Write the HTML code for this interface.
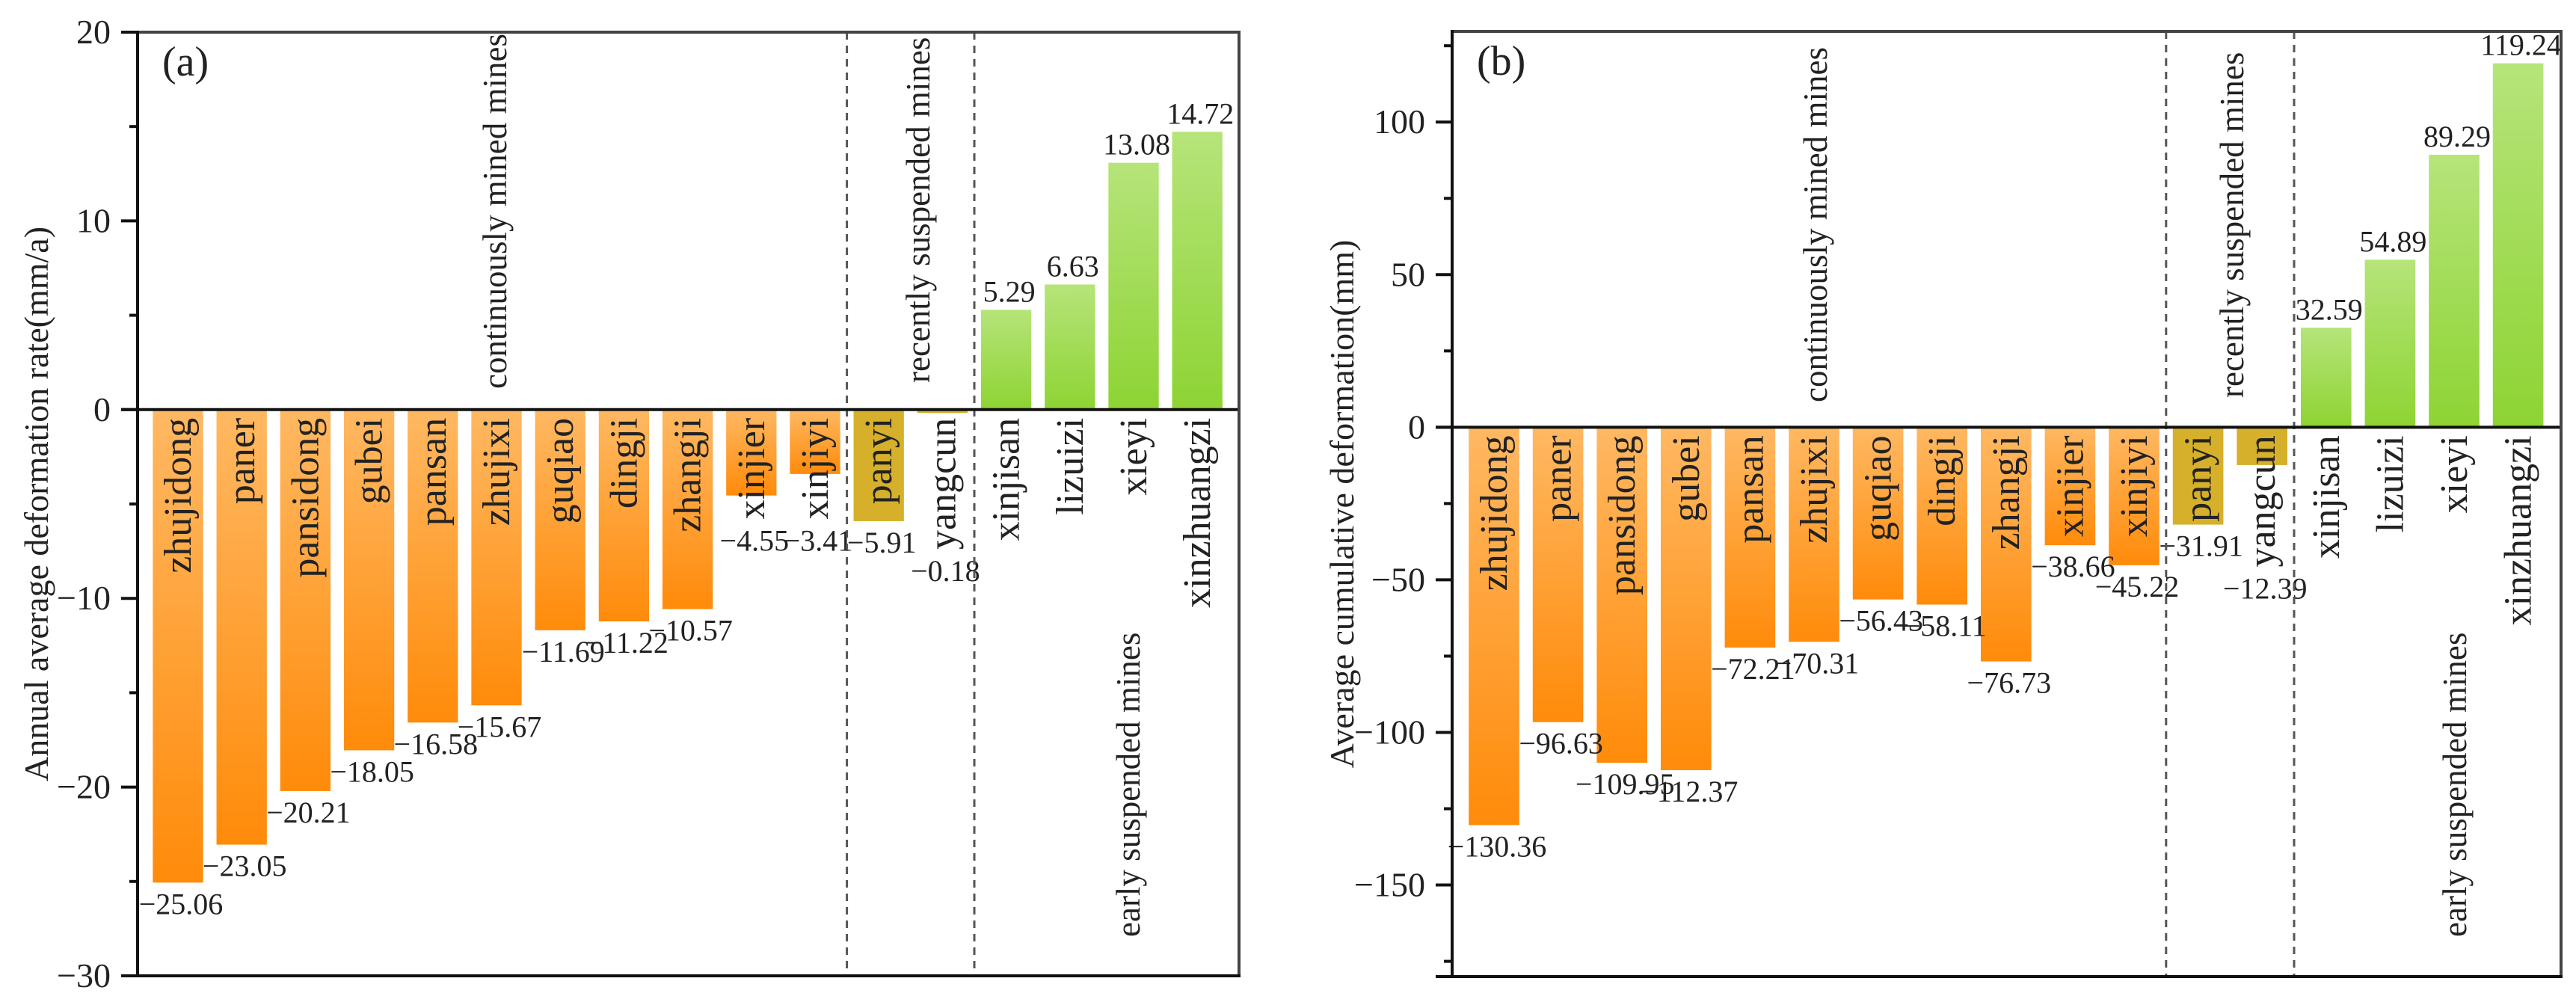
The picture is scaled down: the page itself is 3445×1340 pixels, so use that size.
<!DOCTYPE html>
<html>
<head>
<meta charset="utf-8">
<style>
  html, body { margin: 0; padding: 0; background: #fff; }
  svg { display: block; }
  text { font-family: "Liberation Serif", "Times New Roman", serif; fill: #222; }
</style>
</head>
<body>
<svg id="fig" width="3445" height="1340" viewBox="0 0 3445 1340" xmlns="http://www.w3.org/2000/svg">
  <defs>
    <linearGradient id="gOrange" x1="0" y1="0" x2="0" y2="1">
      <stop offset="0" stop-color="#ffb862"/>
      <stop offset="1" stop-color="#ff8b0a"/>
    </linearGradient>
    <linearGradient id="gGreen" x1="0" y1="0" x2="0" y2="1">
      <stop offset="0" stop-color="#b6e47a"/>
      <stop offset="1" stop-color="#8dd433"/>
    </linearGradient>
  </defs>
  <g id="panelA"></g>
  <g id="panelB"></g>
</svg>
<script>
const categories = ["zhujidong","paner","pansidong","gubei","pansan","zhujixi","guqiao","dingji","zhangji","xinjier","xinjiyi","panyi","yangcun","xinjisan","lizuizi","xieyi","xinzhuangzi"];
const groups = ["c","c","c","c","c","c","c","c","c","c","c","r","r","e","e","e","e"];
const rateValues = [-25.06,-23.05,-20.21,-18.05,-16.58,-15.67,-11.69,-11.22,-10.57,-4.55,-3.41,-5.91,-0.18,5.29,6.63,13.08,14.72];
const cumValues = [-130.36,-96.63,-109.95,-112.37,-72.21,-70.31,-56.43,-58.11,-76.73,-38.66,-45.22,-31.91,-12.39,32.59,54.89,89.29,119.24];
const rateTicks = [20,10,0,-10,-20,-30];
const cumTicks = [100,50,0,-50,-100,-150];

const NS = "http://www.w3.org/2000/svg";
function mk(parent, tag, attrs, txt) {
  const e = document.createElementNS(NS, tag);
  for (const k in attrs) e.setAttribute(k, attrs[k]);
  if (txt !== undefined) e.textContent = txt;
  parent.appendChild(e);
  return e;
}
function fmt(v) { return (v < 0 ? "\u2212" : "") + Math.abs(v).toFixed(2); }
function fmtTick(v) { return (v < 0 ? "\u2212" : "") + Math.abs(v); }

function drawPanel(g, cfg, values, ticks) {
  const yScale = v => cfg.top + (cfg.yMax - v) / (cfg.yMax - cfg.yMin) * (cfg.bottom - cfg.top);
  const xCenter = i => cfg.firstCenter + i * cfg.step;
  const bw = cfg.step * 0.79;
  const y0 = yScale(0);

  values.forEach((v, i) => {
    const yt = v >= 0 ? yScale(v) : y0;
    const h = Math.max(Math.abs(yScale(v) - y0), 1.5);
    const fill = groups[i] === "r" ? "#d6b02a" : (v >= 0 ? "url(#gGreen)" : "url(#gOrange)");
    const r = mk(g, "rect", {x: xCenter(i) - bw / 2, y: yt, width: bw, height: h, fill: fill});
    
    
  });

  const labelEnds = [];
  categories.forEach((c, i) => {
    const x = xCenter(i) + 17, y = y0 + 11;
    const t = mk(g, "text", {x: x, y: y, transform: `rotate(-90 ${x} ${y})`, "text-anchor": "end", "font-size": 52}, c);
    
    
    let len = 0;
    try { len = t.getComputedTextLength(); } catch (e) { len = c.length * 22; }
    labelEnds.push(y + len);
  });

  values.forEach((v, i) => {
    let y;
    if (v >= 0) y = yScale(v) - 11;
    else y = Math.max(yScale(v), labelEnds[i]) + 42;
    const t = mk(g, "text", {x: xCenter(i) + 4, y: y, "text-anchor": "middle", "font-size": 40}, fmt(v));
    
    
  });

  [10.5, 12.5].forEach(p => {
    const x = xCenter(p);
    const l = mk(g, "line", {x1: x, x2: x, y1: cfg.top, y2: cfg.bottom, stroke: "#555", "stroke-width": 3, "stroke-dasharray": "10 8"});
    
    
  });

  const z = mk(g, "line", {x1: cfg.left - 22, x2: cfg.right, y1: y0, y2: y0, stroke: "#111", "stroke-width": 4});
  
  

  const fr = mk(g, "rect", {x: cfg.left, y: cfg.top, width: cfg.right - cfg.left, height: cfg.bottom - cfg.top, fill: "none", stroke: "#444", "stroke-width": 4});
  
  
  mk(g, "line", {x1: cfg.left, x2: cfg.left, y1: cfg.top - 2, y2: cfg.bottom + 2, stroke: "#111", "stroke-width": 4});
  mk(g, "line", {x1: cfg.left - 22, x2: cfg.right + 2, y1: cfg.bottom, y2: cfg.bottom, stroke: "#111", "stroke-width": 4});

  ticks.forEach(v => {
    const y = yScale(v);
    mk(g, "line", {x1: cfg.left - 22, x2: cfg.left, y1: y, y2: y, stroke: "#111", "stroke-width": 4});
    const t = mk(g, "text", {x: cfg.left - 36, y: y + 15, "text-anchor": "end", "font-size": 46}, fmtTick(v));
    
    
  });
  for (let k = 0; k < ticks.length - 1; k++) {
    const y = yScale((ticks[k] + ticks[k + 1]) / 2);
    mk(g, "line", {x1: cfg.left - 11, x2: cfg.left, y1: y, y2: y, stroke: "#111", "stroke-width": 4});
  }
  const topMinor = ticks[0] + (ticks[0] - ticks[1]) / 2;
  if (topMinor <= cfg.yMax) { const y = yScale(topMinor); mk(g, "line", {x1: cfg.left - 11, x2: cfg.left, y1: y, y2: y, stroke: "#111", "stroke-width": 4}); }
  const lastMinor = ticks[ticks.length - 1] - (ticks[0] - ticks[1]) / 2;
  if (lastMinor >= cfg.yMin) { const y = yScale(lastMinor); mk(g, "line", {x1: cfg.left - 11, x2: cfg.left, y1: y, y2: y, stroke: "#111", "stroke-width": 4}); }

  const cy = (cfg.top + cfg.bottom) / 2;
  const yt = mk(g, "text", {x: cfg.titleX, y: cy, transform: `rotate(-90 ${cfg.titleX} ${cy})`, "text-anchor": "middle", "font-size": 46}, cfg.title);
  
  

  const pl = mk(g, "text", {x: cfg.left + 33, y: cfg.top + 58, "font-size": 56}, cfg.panel);
  
  

  cfg.groupText.forEach(gt => {
    const t = mk(g, "text", {x: gt.x, y: gt.y, transform: `rotate(-90 ${gt.x} ${gt.y})`, "font-size": 45}, gt.t);
    
    
  });
}

drawPanel(document.getElementById("panelA"), {
  left: 184, right: 1657, top: 43, bottom: 1305, yMax: 20, yMin: -30,
  firstCenter: 238, step: 85.2, titleX: 64, panel: "(a)",
  title: "Annual average deformation rate(mm/a)",
  groupText: [
    {x: 677, y: 520, t: "continuously mined mines", name: "group-label-continuous"},
    {x: 1243, y: 512, t: "recently suspended mines", name: "group-label-recent"},
    {x: 1524, y: 1253, t: "early suspended mines", name: "group-label-early"}
  ]
}, rateValues, rateTicks);

drawPanel(document.getElementById("panelB"), {
  left: 1942, right: 3425, top: 42, bottom: 1306, yMax: 129.7, yMin: -180,
  firstCenter: 1998, step: 85.6, titleX: 1810, panel: "(b)",
  title: "Average cumulative deformation(mm)",
  groupText: [
    {x: 2443, y: 538, t: "continuously mined mines", name: "group-label-continuous"},
    {x: 3000, y: 532, t: "recently suspended mines", name: "group-label-recent"},
    {x: 3298, y: 1253, t: "early suspended mines", name: "group-label-early"}
  ]
}, cumValues, cumTicks);
</script>
</body>
</html>
